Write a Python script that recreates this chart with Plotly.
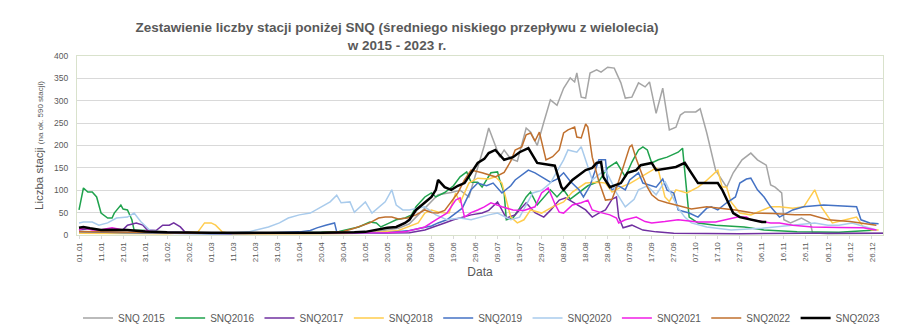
import pandas as pd
import plotly.graph_objects as go

# ---- data: day-of-year offsets (from 1 Jan, leap-year axis) and station counts ----
days_2015 = [0,15,30,45,60,75,90,105,120,135, 145,150,155,160,163,169,173,177,181,184,
             186,188,191,193,196,199,203,205,208,211, 214,217,220,223,225,226,228,230,232,235,
             237,240,243,246,248,251,254,257,259,262, 265,268,271,273,275,280,282,285,289,294,
             297,301,305,308,312,314,316,319,320,323, 328,332,333,340,350,365]
snq_2015 = [6,5,4,5,4,3,4,5,6,8, 15,25,50,75,90,95,100,85,150,200,
            239,212,174,190,170,165,239,230,200,252, 302,290,328,351,342,362,308,306,362,369,
            364,375,373,340,306,308,340,331,342,272, 328,235,241,268,275,275,282,228,145,107,
            139,168,183,168,156,112,107,94,34,27, 38,27,5,3,3,4]

days_2016 = [0,2,4,6,8,10,13,15,16,19, 20,22,24,25,31,37,50,70,90,110,
             118,127,132,135,137,141,144,148,151,153, 157,160,162,166,170,173,176,178,181,183,
             187,190,191,193,194,197,200,203,205,208, 211,214,217,220,223,227,231,236,240,244,
             248,251,254,256,258,260,263,267,272,274, 276,277,281,289,302,311,326,345,362]
snq_2016 = [56,105,96,96,85,49,38,38,49,67, 58,56,34,11,10,6,5,4,4,6,
            8,18,29,27,18,27,34,38,45,63, 85,94,85,95,110,130,141,118,118,107,
            139,141,123,94,34,38,60,85,96,67, 85,101,85,101,80,95,110,120,150,163,
            130,163,190,197,190,161,168,174,185,194, 94,40,27,22,18,11,7,6,11]

days_2017 = [0,5,10,15,20,22,26,29,31,35, 38,41,43,46,48,55,70,100,130,150,
             157,166,170,178,183,186,190,194,198,203, 207,211,214,218,221,224,230,233,236,239,
             242,244,245,247,251,256,262,270,300,330, 365]
snq_2017 = [12,14,10,12,12,22,27,22,11,10, 22,22,27,18,7,4,3,3,4,5,
            11,27,34,45,49,55,74,38,45,72, 50,40,55,78,83,74,56,40,49,56,
            80,85,40,16,22,11,7,4,3,4, 4]

days_2018 = [0,20,40,54,57,60,62,65,70,100, 130,145,150,154,157,160,164,168,171,173,
             177,181,186,189,192,196,199,202,205,210, 215,220,224,227,230,236,239,242,246,250,
             254,258,262,263,266,268,271,276,281,284, 289,290,292,294,296,300,305,311,314,318,
             324,329,332,334,337,340,342,348,353,356, 360,363]
snq_2018 = [4,3,3,7,27,27,22,7,3,3, 4,10,20,27,49,56,50,49,94,72,
            116,127,125,130,116,40,27,34,56,49, 63,74,96,107,116,118,116,96,107,115,
            127,139,150,145,85,75,101,94,107,118, 139,145,107,107,74,49,45,56,63,63,
            60,63,85,101,63,40,27,34,40,18, 11,11]

days_2019 = [0,10,20,40,60,80,95,100,105,108, 112,116,117,125,140,150,160,163,167,170,
             174,178,181,185,188,192,196,198,202,204, 207,210,214,217,220,223,227,229,232,236,
             239,240,242,245,248,250,254,256,262,265, 267,270,272,277,281,285,287,290,294,298,
             300,303,305,308,311,314,318,324,329,338, 348,353,355,359,363]
snq_2019 = [8,6,5,4,3,4,5,7,10,16, 22,27,7,4,5,10,20,27,34,45,
            60,101,116,110,116,94,110,123,139,145, 139,130,118,125,139,120,101,85,110,168,
            168,118,101,110,101,123,139,116,107,125, 100,94,56,49,40,60,63,56,72,85,
            116,125,127,101,85,63,40,56,63,67, 65,63,34,27,25]

days_2020 = [0,2,6,9,13,17,22,25,28,32, 37,50,70,77,86,91,95,100,105,109,
             114,117,119,123,125,130,133,139,142,144, 147,150,157,162,167,173,178,186,190,196,
             200,206,210,214,218,220,222,226,228,230, 233,236,239,242,244,248,252,254,258,262,
             266,269,272,275,278,285,296,310,320,334, 340,345,351,356,362]
snq_2020 = [27,29,29,22,27,38,40,49,30,11, 7,5,5,7,18,27,38,45,49,60,
            74,89,72,74,51,74,49,74,101,67, 56,56,63,45,34,38,34,45,49,34,
            40,94,100,116,150,168,190,185,197,168, 123,135,145,116,94,63,80,101,110,90,
            120,90,60,40,27,18,11,15,20,27, 22,22,27,20,11]

days_2021 = [0,2,4,6,10,15,20,30,40,60, 100,140,148,157,162,167,171,173,175,178,
             181,184,187,192,197,202,207,210,213,216, 218,220,224,228,231,233,237,241,244,245,
             248,253,257,260,266,272,281,289,297,299, 303,305,314,318,324,333,345,350,356,362]
snq_2021 = [11,16,14,11,12,16,11,8,6,4, 4,5,7,18,34,49,78,83,40,50,
            56,63,72,63,56,55,63,94,105,70, 51,49,67,72,78,56,50,45,38,27,
            34,40,30,27,30,34,29,29,38,40, 40,34,27,27,22,18,17,16,16,11]

days_2022 = [0,10,20,40,60,90,110,120,125,132, 136,139,142,145,149,153,157,160,163,166,
             172,175,178,183,186,189,193,196,198,201, 203,205,207,209,212,215,218,220,222,225,
             226,228,230,231,233,236,239,242,245,248, 250,251,253,256,258,260,263,267,272,278,
             285,292,298,306,315,325,332,340,350,362]
snq_2022 = [8,7,6,5,4,4,5,8,15,27, 38,40,40,36,38,45,56,50,49,55,
            94,123,145,139,135,130,140,165,190,197, 224,228,210,230,168,175,190,228,235,241,
            219,217,248,241,174,120,78,80,120,168, 197,201,170,130,107,90,78,72,65,58,
            63,60,56,49,48,45,45,34,30,22]

days_2023 = [0,2,5,10,15,22,30,40,60,90, 110,125,130,140,144,148,150,153,157,160,
             162,163,166,169,172,175,181,184,186,189, 193,197,200,204,208,212,216,219,220,224,
             230,233,235,237,238,241,246,249,253,255, 260,262,268,271,275,277,279,281,285,290,
             292,295,297,300,306,310,312]
snq_2023 = [16,18,15,11,12,11,8,6,5,4, 5,6,7,16,18,27,34,56,72,85,
            101,123,107,101,110,116,161,170,183,190, 168,174,185,194,161,158,155,107,101,123,
            145,150,161,163,130,107,116,139,145,156, 161,145,150,152,161,145,130,116,116,116,
            101,72,49,40,34,29,29]

series_names = ["SNQ 2015", "SNQ2016", "SNQ2017", "SNQ2018", "SNQ2019",
                "SNQ2020", "SNQ2021", "SNQ2022", "SNQ2023"]
series_days = [days_2015, days_2016, days_2017, days_2018, days_2019,
               days_2020, days_2021, days_2022, days_2023]
series_vals = [snq_2015, snq_2016, snq_2017, snq_2018, snq_2019,
               snq_2020, snq_2021, snq_2022, snq_2023]

# ---- styles ----
colors = ["#A5A5A5", "#1FA24D", "#7030A0", "#FFCC4D", "#4472C4",
          "#A9CBEC", "#F01EE6", "#C0702E", "#000000"]
widths = [1.5, 1.5, 1.5, 1.5, 1.5, 1.5, 1.5, 1.5, 2.5]

BASE = pd.Timestamp("2020-01-01")
FONT = "Liberation Sans"
GREY = "#595959"

fig = go.Figure()
for name, d, v, c, w in zip(series_names, series_days, series_vals, colors, widths):
    assert len(d) == len(v), name
    fig.add_trace(go.Scatter(
        x=[BASE + pd.Timedelta(days=k) for k in d], y=v,
        mode="lines", name=name, line=dict(color=c, width=w),
    ))

fig.update_layout(
    width=900, height=333,
    margin=dict(l=77, r=17, t=56, b=98),
    paper_bgcolor="white", plot_bgcolor="white",
    font=dict(family=FONT, color=GREY),
    title=dict(
        text="Zestawienie liczby stacji poniżej SNQ (średniego niskiego przepływu z wielolecia)<br>w 2015 - 2023 r.",
        font=dict(family=FONT, size=13.5, color=GREY, weight="bold"),
        x=397 / 900, xref="container", xanchor="center",
        y=1 - 32 / 333, yref="container", yanchor="middle",
    ),
    showlegend=True,
    legend=dict(
        orientation="h", xref="container", yref="container",
        x=885 / 900, xanchor="right", y=1 - 318 / 333, yanchor="middle",
        font=dict(family=FONT, size=10, color=GREY),
        bgcolor="rgba(0,0,0,0)",
    ),
)

fig.update_xaxes(
    type="date",
    range=["2019-12-31 02:00", "2020-12-31 00:00"],
    tick0="2020-01-01", dtick=10 * 86400000, tickformat="%d.%m",
    tickangle=-90, tickfont=dict(family=FONT, size=8, color=GREY),
    ticks="outside", ticklen=3, tickcolor="#D9D9D9",
    showgrid=False, showline=True, linecolor="#D9E2CC", linewidth=1, mirror=True,
    title=dict(text="Data", font=dict(family=FONT, size=12, color=GREY), standoff=6),
)
fig.update_yaxes(
    range=[0, 400], dtick=50,
    tickfont=dict(family=FONT, size=8.5, color=GREY),
    showgrid=True, gridcolor="#D9D9D9", gridwidth=1, zeroline=False,
    showline=True, linecolor="#D9E2CC", linewidth=1, mirror=True,
    ticks="", ticklabelstandoff=6,
    title=dict(text="Liczba stacji <span style='font-size:8px'>(na ok. 590 stacji)</span>",
               font=dict(family=FONT, size=11.5, color=GREY), standoff=8),
)

fig.write_html("out.html")
